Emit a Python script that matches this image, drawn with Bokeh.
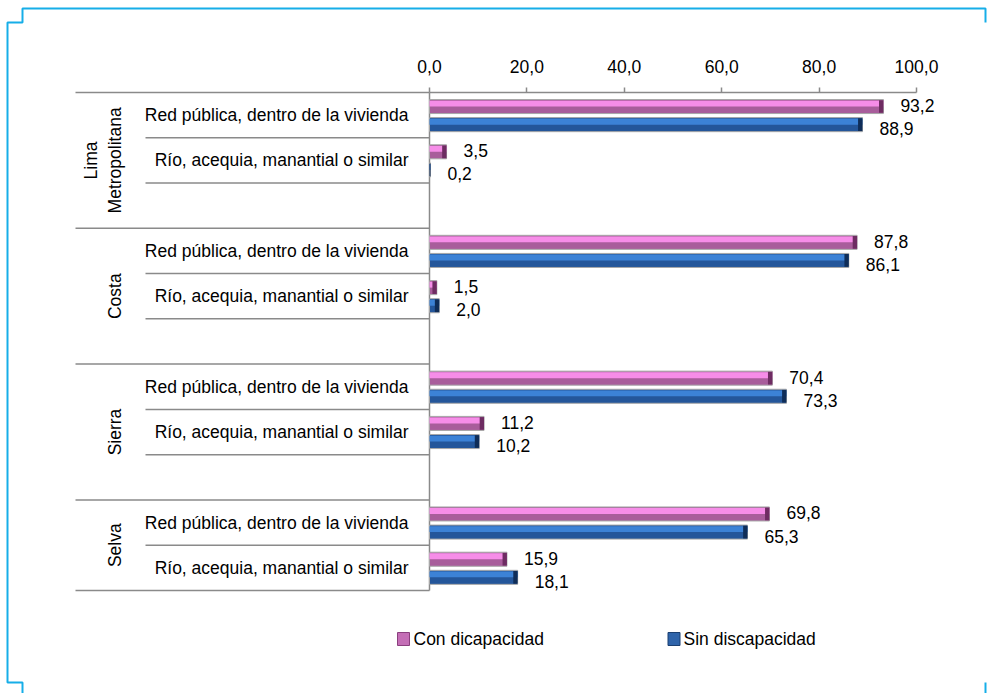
import math
from bokeh.plotting import figure
from bokeh.models import Range1d, LinearAxis, FixedTicker
from bokeh.core.properties import value
from bokeh.embed import file_html
from bokeh.resources import INLINE

# ---------------- data ----------------
regions = ["Lima\nMetropolitana", "Costa", "Sierra", "Selva"]
sources = ["Red pública, dentro de la vivienda", "Río, acequia, manantial o similar"]
series = ["Con dicapacidad", "Sin discapacidad"]
con_dis = [93.2, 3.5, 87.8, 1.5, 70.4, 11.2, 69.8, 15.9]
sin_dis = [88.9, 0.2, 86.1, 2.0, 73.3, 10.2, 65.3, 18.1]
tick_values = [0, 20, 40, 60, 80, 100]
tick_labels = ["0,0", "20,0", "40,0", "60,0", "80,0", "100,0"]

# ---------------- layout constants ----------------
W, H = 988, 693
X0 = 429.0      # pixel of value 0
PPU = 4.87      # pixels per unit
TOP = 92.0      # pixel of first row line
ROW = 45.27     # row height (px)
FONT = "Liberation Sans"
FS = "17.5px"
GRAY = "#8a8a8a"
CYAN = "#16aee8"
PINK_L, PINK_D, PINK_C = "#f68de8", "#a85d9b", "#6e2c62"
BLUE_L, BLUE_D, BLUE_C = "#3c82d6", "#24569a", "#0f2d58"

# rows: each region has its sources plus one empty row (except last)
n_src = len(sources)
rows, grp_start, grp_rows = [], [], []
r = 0
for g in range(len(regions)):
    grp_start.append(r)
    nr = n_src + (1 if g < len(regions) - 1 else 0)
    grp_rows.append(nr)
    for s in range(n_src):
        rows.append(r + s)
    r += nr
total_rows = r

p = figure(width=W, height=H,
           x_range=Range1d(-X0 / PPU, (W - X0) / PPU),
           y_range=Range1d((H - TOP) / ROW, -TOP / ROW),
           output_backend="svg", toolbar_location=None,
           x_axis_location=None, y_axis_location=None,
           min_border=0, outline_line_color=None,
           background_fill_color="white", border_fill_color="white")
p.min_border_left = p.min_border_right = p.min_border_top = p.min_border_bottom = 0
p.xgrid.visible = False
p.ygrid.visible = False
p.extra_x_ranges = {"px": Range1d(0, W)}
p.extra_y_ranges = {"px": Range1d(H, 0)}

# x axis on top of the table
ax = LinearAxis(fixed_location=0, bounds=(0, 100),
                ticker=FixedTicker(ticks=tick_values),
                major_label_overrides={v: t for v, t in zip(tick_values, tick_labels)},
                axis_line_color=GRAY, axis_line_width=1.5,
                major_tick_line_color=GRAY, major_tick_line_width=1.5,
                major_tick_out=5, major_tick_in=0,
                minor_tick_out=0, minor_tick_in=0,
                major_label_standoff=15,
                major_label_text_font=FONT, major_label_text_font_size=FS,
                major_label_text_color="#000000")
p.add_layout(ax, "above")

# ---------------- table lines ----------------
grp_lines = [0] + grp_start[1:] + [total_rows]
p.segment(x0=[75] * len(grp_lines), x1=[X0] * len(grp_lines),
          y0=grp_lines, y1=grp_lines,
          x_range_name="px", line_color=GRAY, line_width=1.5)
sub_lines = []
for g in range(len(regions)):
    for k in range(1, grp_rows[g]):
        sub_lines.append(grp_start[g] + k)
p.segment(x0=[145] * len(sub_lines), x1=[X0] * len(sub_lines),
          y0=sub_lines, y1=sub_lines,
          x_range_name="px", line_color=GRAY, line_width=1.5)
p.segment(x0=[0], x1=[0], y0=[0], y1=[total_rows], line_color=GRAY, line_width=1.5)

# ---------------- labels ----------------
p.text(x=[408] * len(rows), y=[rr + 0.5 for rr in rows],
       text=[sources[i % n_src] for i in range(len(rows))],
       x_range_name="px", text_align="right", text_baseline="middle",
       text_font=value(FONT), text_font_size=FS, text_color="#000000")
p.text(x=[124] * len(regions), y=[grp_start[g] + grp_rows[g] / 2 for g in range(len(regions))],
       text=regions, angle=math.pi / 2, x_range_name="px",
       text_align="center", text_baseline="bottom", text_line_height=1.2,
       text_font=value(FONT), text_font_size=FS, text_color="#000000")

# ---------------- bars ----------------
BH = 0.31
def bars(vals, yc, light, dark, cap):
    p.hbar(y=yc, left=0, right=vals, height=BH, fill_color=dark,
           line_color="#a8a8a8", line_width=1)
    p.hbar(y=[y - 0.065 for y in yc], left=0, right=vals, height=0.13,
           fill_color=light, line_color=None)
    p.hbar(y=yc, left=[max(0.0, v - 0.9) for v in vals], right=vals, height=BH - 0.03,
           fill_color=cap, line_color=None)

pink_y = [rr + 0.31 for rr in rows]
blue_y = [rr + 0.71 for rr in rows]
bars(con_dis, pink_y, PINK_L, PINK_D, PINK_C)
bars(sin_dis, blue_y, BLUE_L, BLUE_D, BLUE_C)

fmt = lambda v: f"{v:.1f}".replace(".", ",")
p.text(x=con_dis, y=pink_y, text=[fmt(v) for v in con_dis], x_offset=17, y_offset=-1,
       text_align="left", text_baseline="middle",
       text_font=value(FONT), text_font_size=FS, text_color="#000000")
p.text(x=sin_dis, y=blue_y, text=[fmt(v) for v in sin_dis], x_offset=17, y_offset=4,
       text_align="left", text_baseline="middle",
       text_font=value(FONT), text_font_size=FS, text_color="#000000")

# ---------------- legend ----------------
p.rect(x=[403, 673.5], y=[638.5, 638.5], width=12, height=13,
       fill_color=["#c46eb6", "#2f64aa"], line_color=["#8a3f7e", "#1b3f70"],
       x_range_name="px", y_range_name="px")
p.text(x=[413, 683], y=[638, 638], text=series, x_range_name="px", y_range_name="px",
       text_align="left", text_baseline="middle",
       text_font=value(FONT), text_font_size=FS, text_color="#000000")

# ---------------- cyan frame ----------------
p.multi_line(xs=[[22, 22, 7, 7, 22, 22, 985, 985], [985, 985]],
             ys=[[693, 682, 682, 22, 22, 8, 8, 22], [682, 693]],
             x_range_name="px", y_range_name="px", line_color=CYAN, line_width=2)

open("out.html", "w").write(file_html(p, INLINE))
